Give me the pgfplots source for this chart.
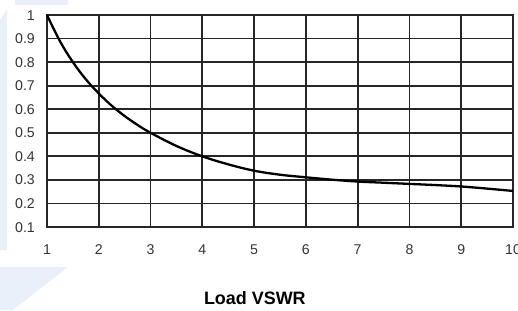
\documentclass[border=0pt]{standalone}
\usepackage{pgfplots}
\pgfplotsset{compat=1.18}
\usepackage{fontspec}
\setmainfont{Liberation Sans}
\definecolor{wm}{HTML}{E9F0F9}
\definecolor{gridc}{HTML}{262626}
\definecolor{tickc}{HTML}{333333}
\begin{document}
\begin{tikzpicture}[x=1bp,y=1bp]
\useasboundingbox (0,0) rectangle (518,310);
\fill[wm] (15,310) rectangle (68,305);
\fill[wm] (0,290)--(7,300)--(7,60)--(0,60)--cycle;
\fill[wm] (0,43)--(68,43)--(13,0)--(0,0)--cycle;
\begin{axis}[
  at={(47bp,83bp)}, anchor=south west,
  width=466bp, height=212bp, scale only axis,
  xmin=1, xmax=10, ymin=0.1, ymax=1,
  xtick={1,2,3,4,5,6,7,8,9,10},
  ytick={0.1,0.2,0.3,0.4,0.5,0.6,0.7,0.8,0.9,1},
  yticklabels={0.1,0.2,0.3,0.4,0.5,0.6,0.7,0.8,0.9,1},
  grid=major,
  major grid style={line width=1.7bp, gridc},
  axis line style={line width=1.7bp, gridc},
  major tick length=0pt,
  /pgf/number format/assume math mode=true,
  tick label style={font=\fontsize{14.2}{16}\selectfont, text=tickc, inner sep=0pt},
  yticklabel style={anchor=base east, xshift=-12bp, yshift=-5bp},
  xticklabel style={anchor=base, yshift=-27bp},
  xlabel={\textbf{Load VSWR}},
  xlabel style={font=\fontsize{18}{20}\selectfont, at={(axis description cs:0.446,-0.335)}, anchor=center, inner sep=0pt},
  clip=false,
]
\addplot[black, line width=2.3bp, smooth, tension=0.6] coordinates {
(1,1.0) (1.25,0.889) (1.5,0.8) (1.75,0.727) (2,0.667) (2.25,0.615) (2.5,0.571) (2.75,0.533) (3,0.5) (3.5,0.444) (4,0.4) (4.5,0.366) (5,0.339) (5.5,0.322) (6,0.311) (6.5,0.301) (7,0.293) (7.5,0.288) (8,0.283) (8.5,0.278) (9,0.272) (9.5,0.263) (10,0.253)
};
\end{axis}
\end{tikzpicture}
\end{document}
